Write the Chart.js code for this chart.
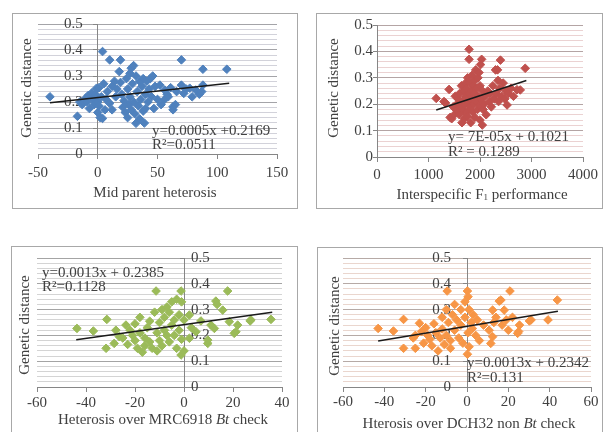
<!DOCTYPE html>
<html>
<head>
<meta charset="utf-8">
<script src="https://cdn.jsdelivr.net/npm/chart.js@4.4.0/dist/chart.umd.min.js"></script>
<style>
  html, body { margin: 0; padding: 0; background: #fff; }
  body { position: relative; width: 603px; height: 432px; overflow: hidden; }
  .frame { position: absolute; border: 1px solid #a8a8a8; box-sizing: border-box; }
  canvas { position: absolute; }
</style>
</head>
<body>
<div class="frame" style="left:12px;top:13px;width:286px;height:196px"></div>
<div class="frame" style="left:316px;top:13px;width:287px;height:196px"></div>
<div class="frame" style="left:11px;top:246px;width:287px;height:200px"></div>
<div class="frame" style="left:317px;top:247px;width:286px;height:200px"></div>
<canvas id="c1" width="285" height="196" style="left:12px;top:13px"></canvas>
<canvas id="c2" width="286" height="196" style="left:316px;top:13px"></canvas>
<canvas id="c3" width="286" height="190" style="left:11px;top:246px"></canvas>
<canvas id="c4" width="285" height="190" style="left:317px;top:247px"></canvas>
<script>
'use strict';

// Data: [x, genetic distance]
let yTickLabels = ['0', '0.1', '0.2', '0.3', '0.4', '0.5'];

let midParentPoints = [[-40,0.22],[-17,0.145],[-15,0.2],[-13,0.19],[-12,0.2],[-10,0.215],[-9,0.2],[-8,0.225],[-7,0.175],[-5,0.235],[-4,0.21],[-3,0.19],[-2,0.23],[-1,0.253],[0,0.2],[0,0.16],[1,0.185],[1,0.255],[2,0.14],[3,0.22],[4,0.394],[4,0.137],[5,0.27],[6,0.17],[7,0.21],[8,0.24],[10,0.362],[10,0.195],[12,0.26],[12,0.17],[14,0.28],[15,0.22],[16,0.25],[18,0.317],[19,0.362],[19,0.275],[20,0.23],[21,0.18],[22,0.205],[23,0.16],[24,0.29],[25,0.25],[25,0.14],[26,0.19],[27,0.31],[27,0.22],[28,0.33],[28,0.17],[29,0.27],[30,0.34],[30,0.2],[31,0.155],[32,0.118],[32,0.3],[33,0.24],[34,0.185],[35,0.28],[35,0.135],[36,0.21],[37,0.26],[38,0.29],[38,0.165],[39,0.119],[40,0.23],[40,0.175],[41,0.28],[42,0.2],[43,0.25],[44,0.29],[45,0.22],[46,0.3],[47,0.175],[48,0.26],[50,0.21],[52,0.265],[53,0.19],[56,0.246],[56,0.21],[58,0.23],[59,0.22],[61,0.255],[63,0.17],[63,0.182],[65,0.19],[66,0.24],[70,0.362],[70,0.265],[72,0.233],[74,0.25],[77,0.253],[79,0.22],[82,0.246],[85,0.23],[87,0.24],[88,0.265],[88,0.326],[108,0.326]];
let midParentTrendX = [-40, 110];
let midParentTrendY = [0.197, 0.272];
let midParentEq = ['y=0.0005x +0.2169', 'R\u00b2=0.0511'];

let f1Points = [[1150,0.222],[1300,0.21],[1330,0.205],[1400,0.256],[1420,0.15],[1450,0.145],[1480,0.19],[1500,0.16],[1520,0.23],[1550,0.2],[1560,0.175],[1580,0.22],[1600,0.24],[1600,0.16],[1620,0.19],[1640,0.27],[1650,0.13],[1660,0.21],[1680,0.25],[1680,0.175],[1700,0.2],[1700,0.145],[1720,0.28],[1720,0.23],[1740,0.26],[1750,0.17],[1756,0.153],[1760,0.3],[1770,0.21],[1788,0.408],[1788,0.37],[1790,0.24],[1800,0.19],[1810,0.28],[1820,0.13],[1830,0.25],[1840,0.22],[1850,0.31],[1860,0.17],[1870,0.27],[1880,0.2],[1890,0.24],[1900,0.29],[1900,0.15],[1917,0.33],[1920,0.21],[1940,0.26],[1950,0.18],[1960,0.3],[1970,0.23],[1980,0.32],[1990,0.195],[2000,0.14],[2000,0.27],[2010,0.35],[2020,0.22],[2032,0.37],[2045,0.121],[2050,0.25],[2060,0.18],[2080,0.2],[2100,0.23],[2120,0.16],[2150,0.25],[2180,0.21],[2200,0.24],[2220,0.19],[2250,0.27],[2280,0.22],[2301,0.33],[2320,0.24],[2340,0.33],[2350,0.29],[2360,0.21],[2380,0.26],[2397,0.367],[2420,0.23],[2450,0.28],[2480,0.22],[2500,0.25],[2526,0.197],[2550,0.24],[2600,0.26],[2650,0.23],[2718,0.255],[2782,0.254],[2878,0.336]];
let f1TrendX = [1150, 2900];
let f1TrendY = [0.178, 0.29];
let f1Eq = ['y= 7E-05x + 0.1021', 'R\u00b2 = 0.1289'];

let mrcPoints = [[-43.7,0.227],[-37,0.217],[-31.5,0.262],[-31.8,0.15],[-28.5,0.169],[-27.8,0.22],[-26.4,0.195],[-25,0.19],[-23.7,0.24],[-23,0.165],[-22,0.22],[-21,0.2],[-20,0.18],[-20,0.245],[-19,0.15],[-18,0.27],[-18,0.21],[-17,0.135],[-16,0.19],[-16,0.16],[-15,0.23],[-14,0.175],[-14,0.255],[-13,0.15],[-12,0.29],[-11.4,0.372],[-11,0.21],[-11,0.14],[-10,0.25],[-10,0.18],[-9,0.3],[-9,0.16],[-8,0.27],[-8,0.22],[-7,0.31],[-7,0.2],[-6,0.29],[-6,0.175],[-5,0.33],[-5,0.24],[-4,0.26],[-4,0.2],[-3,0.34],[-3,0.15],[-2,0.28],[-2,0.22],[-1.2,0.372],[-1.2,0.124],[-1,0.33],[-1,0.185],[0,0.26],[0,0.14],[2.2,0.279],[2.2,0.189],[3,0.23],[4.9,0.214],[6.9,0.256],[9.7,0.169],[9.7,0.182],[11,0.24],[12.4,0.227],[13,0.333],[13.5,0.32],[15.8,0.298],[17.8,0.372],[18.5,0.253],[20.5,0.208],[21.2,0.214],[21.9,0.24],[27,0.256],[27.3,0.26],[35.5,0.262]];
let mrcTrendX = [-44, 36];
let mrcTrendY = [0.183, 0.29];
let mrcEq = ['y=0.0013x + 0.2385', 'R\u00b2=0.1128'];

let dchPoints = [[-43,0.227],[-35.6,0.217],[-30.7,0.262],[-30.7,0.15],[-25,0.15],[-26,0.19],[-25,0.2],[-23,0.247],[-22,0.215],[-21,0.17],[-20,0.23],[-19,0.2],[-18,0.185],[-17,0.16],[-16,0.245],[-15,0.21],[-14,0.14],[-13,0.19],[-12,0.27],[-12,0.225],[-11,0.165],[-10,0.3],[-10,0.2],[-9.6,0.372],[-9,0.25],[-8,0.18],[-8,0.15],[-7,0.28],[-6,0.32],[-6,0.22],[-5,0.26],[-4,0.19],[-3,0.3],[-3,0.24],[-2,0.17],[-1,0.33],[-1,0.27],[0.2,0.372],[0.2,0.127],[0.5,0.35],[0.5,0.21],[1,0.156],[1,0.3],[2,0.25],[2.6,0.227],[3,0.28],[4.2,0.2],[5,0.26],[6,0.18],[8,0.24],[10.7,0.22],[11.5,0.169],[12.4,0.298],[12.4,0.195],[13,0.25],[14,0.27],[15.6,0.333],[16.4,0.337],[17,0.24],[18,0.298],[19,0.26],[20.8,0.372],[20,0.22],[22,0.27],[24.5,0.208],[25,0.215],[25.4,0.24],[31,0.26],[30.2,0.256],[39.2,0.26],[43.7,0.337]];
let dchTrendX = [-43, 44];
let dchTrendY = [0.178, 0.294];
let dchEq = ['y=0.0013x + 0.2342', 'R\u00b2=0.131'];

const SERIF = '"Liberation Serif", "Times New Roman", serif';
const TEXT = '#404040';
const AXIS = '#868686';

function isMajor(v) {
  return Math.abs(v * 10 - Math.round(v * 10)) < 1e-6;
}

function drawRich(ctx, segs, cx, cy, size) {
  function fontOf(s) {
    return (s.i ? 'italic ' : '') + (s.sub ? Math.round(size * 0.6) : size) + 'px ' + SERIF;
  }
  let w = 0;
  segs.forEach(s => { ctx.font = fontOf(s); w += ctx.measureText(s.t).width; });
  let x = cx - w / 2;
  ctx.textAlign = 'left';
  segs.forEach(s => {
    ctx.font = fontOf(s);
    ctx.fillText(s.t, x, cy + (s.sub ? 3 : 0));
    x += ctx.measureText(s.t).width;
  });
}

// axis labels, titles and the trend equations
function textPlugin(p) {
  return {
    id: 'panelText',
    beforeDatasetsDraw(chart) {
      let ctx = chart.ctx;
      let xs = chart.scales.x, ys = chart.scales.y;
      ctx.save();
      ctx.fillStyle = TEXT;
      ctx.font = '15px ' + SERIF;
      ctx.textBaseline = 'middle';
      ctx.textAlign = p.labelAlign;
      let lx = xs.getPixelForValue(0) + p.labelDx;
      yTickLabels.forEach(l => {
        ctx.fillText(l, lx, ys.getPixelForValue(Number(l)));
      });
      ctx.restore();
    },
    afterDatasetsDraw(chart) {
      let ctx = chart.ctx;
      ctx.save();
      ctx.fillStyle = TEXT;
      ctx.textBaseline = 'middle';
      ctx.font = '15px ' + SERIF;
      ctx.textAlign = 'left';
      ctx.fillText(p.eq[0], p.eqPos[0], p.eqPos[1]);
      ctx.fillText(p.eq[1], p.eqPos[0], p.eqPos[2]);
      drawRich(ctx, p.xTitle, p.xTitlePos[0], p.xTitlePos[1], 15);
      ctx.translate(p.yTitlePos[0], p.yTitlePos[1]);
      ctx.rotate(-Math.PI / 2);
      ctx.textAlign = 'center';
      ctx.font = '15px ' + SERIF;
      ctx.fillText('Genetic distance', 0, 0);
      ctx.restore();
    }
  };
}

function makePanel(p) {
  let canvas = document.getElementById(p.id);
  let w = canvas.width, h = canvas.height;
  new Chart(canvas, {
    type: 'scatter',
    data: {
      datasets: [{
        data: p.trendX.map((x, i) => ({ x: x, y: p.trendY[i] })),
        showLine: true,
        borderColor: '#1a1a1a',
        borderWidth: 1.5,
        pointRadius: 0
      }, {
        data: p.points.map(d => ({ x: d[0], y: d[1] })),
        pointStyle: 'rectRot',
        pointRadius: 4.3,
        borderWidth: 1,
        backgroundColor: p.color,
        borderColor: p.color
      }]
    },
    options: {
      responsive: false,
      animation: false,
      events: [],
      layout: { padding: { left: p.area[0], right: w - p.area[1], top: p.area[2], bottom: 0 } },
      plugins: { legend: { display: false }, tooltip: { enabled: false } },
      scales: {
        x: {
          type: 'linear',
          position: 'bottom',
          min: p.xMin,
          max: p.xMax,
          ticks: {
            stepSize: p.xStep, padding: p.xPad, color: TEXT, font: { family: SERIF, size: 15 },
            maxRotation: 0, autoSkip: false,
            callback: v => String(v)
          },
          grid: { drawOnChartArea: false, drawTicks: true, tickLength: 5, tickColor: AXIS },
          border: { color: AXIS },
          afterFit(scale) { scale.height = h - p.area[3]; }
        },
        y: {
          type: 'linear',
          position: { x: 0 },
          min: 0,
          max: 0.5,
          ticks: { display: false, stepSize: 0.02, autoSkip: false },
          grid: {
            color: ctx => isMajor(ctx.tick.value) ? p.major : p.minor,
            tickLength: 4,
            tickColor: ctx => isMajor(ctx.tick.value) ? AXIS : 'rgba(0,0,0,0)'
          },
          border: { color: AXIS }
        }
      }
    },
    plugins: [textPlugin(p)]
  });
}

makePanel({
  id: 'c1', points: midParentPoints, trendX: midParentTrendX, trendY: midParentTrendY, eq: midParentEq,
  color: '#4f81bd', major: '#a4a4a8', minor: '#d2d2da',
  area: [26, 265, 11, 141], xMin: -50, xMax: 150, xStep: 50, xPad: 5,
  labelAlign: 'right', labelDx: -15,
  eqPos: [140, 118, 132], xTitle: [{ t: 'Mid parent heterosis' }], xTitlePos: [143, 180], yTitlePos: [15, 75]
});

makePanel({
  id: 'c2', points: f1Points, trendX: f1TrendX, trendY: f1TrendY, eq: f1Eq,
  color: '#c0504d', major: '#b4a4a4', minor: '#ebd2d2',
  area: [61, 268, 12, 144], xMin: 0, xMax: 4000, xStep: 1000, xPad: 4,
  labelAlign: 'right', labelDx: -4,
  eqPos: [132, 124, 139],
  xTitle: [{ t: 'Interspecific F' }, { t: '1', sub: true }, { t: ' performance' }], xTitlePos: [166, 182], yTitlePos: [18, 75]
});

makePanel({
  id: 'c3', points: mrcPoints, trendX: mrcTrendX, trendY: mrcTrendY, eq: mrcEq,
  color: '#9bbb59', major: '#a4a4a4', minor: '#d4d4d4',
  area: [26, 271, 12, 141], xMin: -60, xMax: 40, xStep: 20, xPad: 2,
  labelAlign: 'left', labelDx: 7,
  eqPos: [31, 27, 41],
  xTitle: [{ t: 'Heterosis over MRC6918 ' }, { t: 'Bt', i: true }, { t: ' check' }], xTitlePos: [152, 174], yTitlePos: [14, 79]
});

makePanel({
  id: 'c4', points: dchPoints, trendX: dchTrendX, trendY: dchTrendY, eq: dchEq,
  color: '#f79646', major: '#b6aaa6', minor: '#ead6ce',
  area: [26, 274, 11, 140], xMin: -60, xMax: 60, xStep: 20, xPad: 1,
  labelAlign: 'right', labelDx: -16,
  eqPos: [150, 116, 131],
  xTitle: [{ t: 'Hterosis over DCH32 non ' }, { t: 'Bt', i: true }, { t: ' check' }], xTitlePos: [152, 177], yTitlePos: [18, 79]
});
</script>
</body>
</html>
